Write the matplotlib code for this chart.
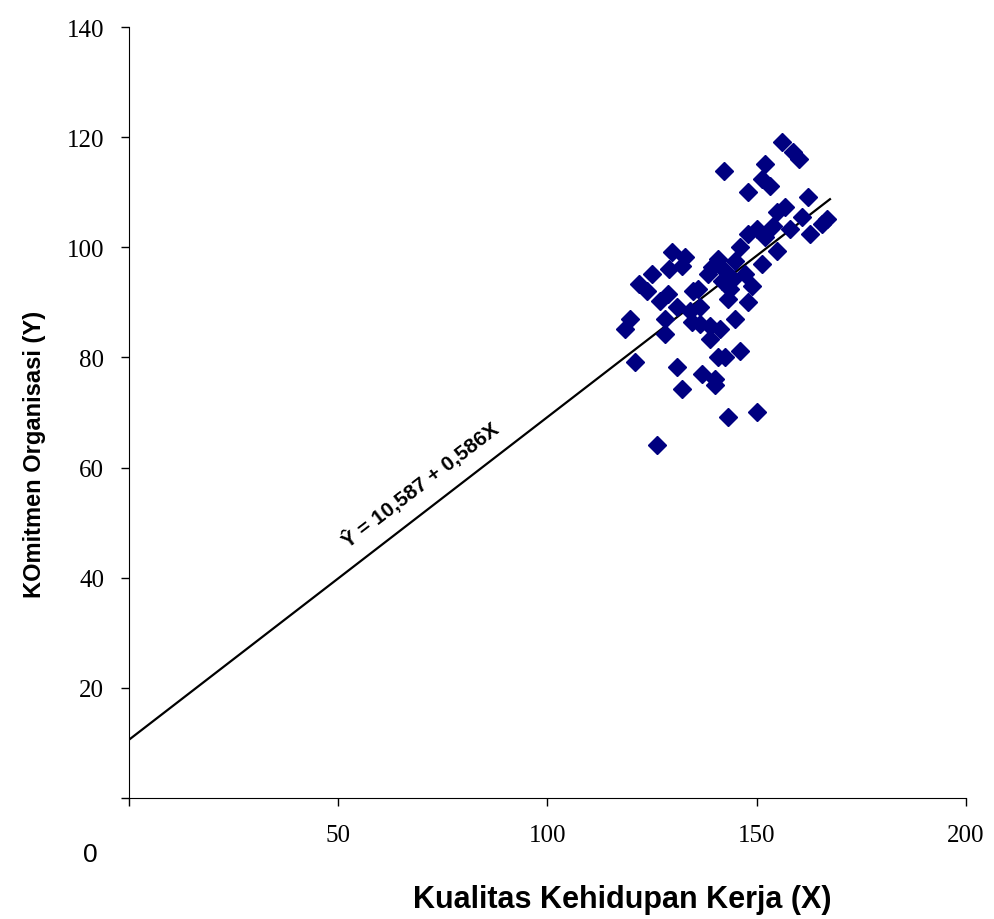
import matplotlib
matplotlib.use("Agg")
import matplotlib.pyplot as plt

# Kualitas Kehidupan Kerja (X) vs KOmitmen Organisasi (Y)
x_vals = [156.0, 158.7, 160.1, 152.0, 142.2, 151.3, 153.2, 147.9, 162.2, 156.7,
          154.8, 160.8, 166.8, 165.6, 153.9, 150.1, 147.9, 157.9, 162.7, 152.0,
          146.0, 154.8, 151.3, 147.2, 148.9, 143.6, 143.1, 147.9, 144.8, 146.0,
          142.4, 143.1, 150.1, 129.7, 132.9, 132.1, 129.0, 125.0, 121.9, 123.8,
          128.8, 126.9, 130.9, 134.8, 136.0, 134.1, 136.4, 134.5, 136.4, 138.4,
          139.3, 140.7, 119.7, 118.5, 128.1, 128.1, 138.8, 141.2, 138.8, 120.9,
          130.9, 136.9, 140.0, 140.0, 140.7, 132.1, 126.2, 142.4, 141.7, 144.8,
          144.3]
y_vals = [119.1, 117.3, 116.0, 115.1, 113.9, 112.4, 111.1, 110.0, 109.1, 107.3,
          106.4, 105.5, 105.1, 104.2, 103.9, 103.3, 102.4, 103.3, 102.4, 101.9,
          100.1, 99.3, 97.0, 95.2, 93.0, 92.4, 90.6, 90.1, 87.0, 81.2,
          80.1, 69.2, 70.1, 99.1, 98.2, 96.6, 96.1, 95.2, 93.3, 92.1,
          91.5, 90.2, 89.2, 92.1, 92.4, 88.4, 89.2, 86.4, 86.1, 95.2,
          96.4, 97.9, 87.0, 85.2, 87.0, 84.3, 85.7, 85.2, 83.3, 79.2,
          78.3, 77.0, 76.1, 75.0, 80.1, 74.3, 64.1, 95.7, 93.9, 97.5,
          94.2]

intercept = 10.587
slope = 0.586
line_x = [0, 167.5]
line_y = [intercept + slope * v for v in line_x]

xticks = [0, 50, 100, 150, 200]
yticks = [0, 20, 40, 60, 80, 100, 120, 140]

fig = plt.figure(figsize=(9.94, 9.2), dpi=100)
ax = fig.add_axes([0.1298, 0.1315, 0.842, 0.838])

ax.plot(line_x, line_y, color="black", linewidth=1.6, zorder=2)
ax.plot(x_vals, y_vals, linestyle="none", marker="D", markersize=9,
        color="#000080", zorder=3)

ax.set_xlim(0, 200)
ax.set_ylim(0, 140)
ax.spines["top"].set_visible(False)
ax.spines["right"].set_visible(False)
ax.set_xticks(xticks)
ax.set_xticklabels(["" if t == 0 else str(t) for t in xticks])
ax.set_yticks(yticks)
ax.set_yticklabels(["" if t == 0 else str(t) for t in yticks])
ax.tick_params(direction="out", length=6, width=1, labelsize=18)
ax.tick_params(axis="x", pad=13)
ax.tick_params(axis="y", pad=12)
for lab in ax.get_xticklabels() + ax.get_yticklabels():
    lab.set_family("Liberation Serif")

ax.text(69.5, 57.0, "Ŷ = 10,587 + 0,586X", rotation=37.5,
        rotation_mode="anchor", ha="center", va="center",
        fontsize=15, fontweight="bold", family="Liberation Sans")

fig.text(622 / 994, 20 / 920, "Kualitas Kehidupan Kerja (X)", ha="center",
         va="center", fontsize=22, fontweight="bold", family="Liberation Sans")
fig.text(35 / 994, (920 - 454) / 920, "KOmitmen Organisasi (Y)", ha="center",
         va="center", rotation=90, fontsize=17, fontweight="bold",
         family="Liberation Sans")
fig.text(90 / 994, (920 - 855) / 920, "0", ha="center", va="center",
         fontsize=19, family="Liberation Sans")

fig.savefig("out.png", dpi=100)
